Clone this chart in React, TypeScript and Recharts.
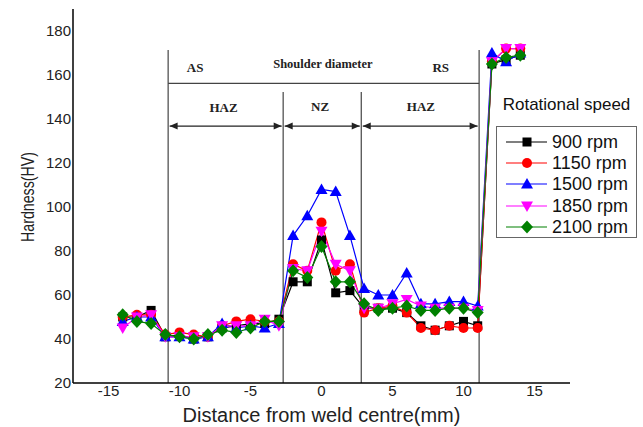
import {
  Legend,
  Line,
  LineChart,
  ReferenceDot,
  ReferenceLine,
  XAxis,
  YAxis,
} from 'recharts'

// distance from weld centre (mm)
const distance = [-14, -13, -12, -11, -10, -9, -8, -7, -6, -5, -4, -3, -2, -1, 0, 1, 2, 3, 4, 5, 6, 7, 8, 9, 10, 11, 12, 13, 14]

const rpm900 = [50, 50, 53, 41, 42, 40, 41, 45, 46, 47, 47, 49, 66, 66, 85, 61, 62, 54, 54, 54, 52, 46, 44, 46, 48, 46, 165, 167, 169]
const rpm1150 = [50, 51, 51, 42, 43, 42, 41, 46, 48, 49, 48, 48, 74, 71, 93, 71, 74, 52, 54, 55, 52, 45, 44, 46, 45, 45, 166, 172, 172]
const rpm1500 = [48, 50, 50, 41, 41, 40, 41, 47, 45, 46, 45, 47, 87, 96, 108, 107, 87, 63, 60, 60, 70, 56, 56, 57, 57, 55, 170, 166, 170]
const rpm1850 = [45, 50, 51, 41, 41, 41, 41, 46, 46, 46, 49, 46, 72, 71, 89, 74, 71, 54, 54, 56, 58, 55, 54, 54, 54, 53, 166, 172, 172]
const rpm2100 = [51, 48, 47, 42, 41, 40, 42, 44, 43, 45, 48, 48, 71, 68, 82, 66, 66, 56, 53, 54, 55, 53, 53, 54, 54, 52, 165, 168, 169]

const seriesNames = ['900 rpm', '1150 rpm', '1500 rpm', '1850 rpm', '2100 rpm']
const seriesKeys = ['s900', 's1150', 's1500', 's1850', 's2100']
const seriesColors = ['#000000', '#ff0000', '#0000ff', '#ff00ff', '#008000']
const seriesMarkers = ['square', 'circle', 'triangle', 'down', 'diamond']

const xTicks = [-15, -10, -5, 0, 5, 10, 15]
const yTicks = [20, 40, 60, 80, 100, 120, 140, 160, 180]

// zone boundaries (mm) and annotation heights (HV)
const zoneBounds = [-10.8, -2.7, 2.8, 11.1]
const outerTop = 171.4
const innerTop = 152.3
const shoulderY = 156.2
const arrowY = 136.8

const topLabels = [
  { text: 'AS', x: -8.9, y: 163.6 },
  { text: 'Shoulder diameter', x: 0.1, y: 165 },
  { text: 'RS', x: 8.4, y: 163.6 },
]
const zoneLabels = [
  { text: 'HAZ', x: -6.9, y: 145.3 },
  { text: 'NZ', x: -0.1, y: 145.5 },
  { text: 'HAZ', x: 7.0, y: 145.5 },
]

const rows = distance.map((d, i) => ({
  d,
  s900: rpm900[i],
  s1150: rpm1150[i],
  s1500: rpm1500[i],
  s1850: rpm1850[i],
  s2100: rpm2100[i],
}))

function Marker({ kind, cx, cy, color }: { kind: string; cx: number; cy: number; color: string }) {
  if (cx == null || cy == null) return null
  if (kind === 'square') return <rect x={cx - 4.5} y={cy - 4.5} width={9} height={9} fill={color} />
  if (kind === 'circle') return <circle cx={cx} cy={cy} r={5} fill={color} />
  if (kind === 'triangle')
    return <polygon points={`${cx},${cy - 6} ${cx + 6},${cy + 4.5} ${cx - 6},${cy + 4.5}`} fill={color} />
  if (kind === 'down')
    return <polygon points={`${cx},${cy + 6} ${cx + 6},${cy - 4.5} ${cx - 6},${cy - 4.5}`} fill={color} />
  return <polygon points={`${cx},${cy - 6.5} ${cx + 6},${cy} ${cx},${cy + 6.5} ${cx - 6},${cy}`} fill={color} />
}

const ArrowSegment = (p: any) => {
  const { x1, y1, x2, y2 } = p
  const a = x1 + 1.5
  const b = x2 - 1.5
  const h = 8
  const w = 3.5
  return (
    <g>
      <line x1={a} y1={y1} x2={b} y2={y2} stroke="#222" strokeWidth={1.2} />
      <polygon points={`${a},${y1} ${a + h},${y1 - w} ${a + h},${y1 + w}`} fill="#222" />
      <polygon points={`${b},${y2} ${b - h},${y2 - w} ${b - h},${y2 + w}`} fill="#222" />
    </g>
  )
}

const textShape = (text: string, size: number) => (p: any) => (
  <text
    x={p.cx}
    y={p.cy}
    textAnchor="middle"
    dominantBaseline="central"
    fontFamily="'Liberation Serif', 'Times New Roman', serif"
    fontWeight="bold"
    fontSize={size}
    fill="#222"
  >
    {text}
  </text>
)

// legend keeps the series order of the figure
const renderLegend = () => (
  <div style={{ fontFamily: "'Liberation Sans', Arial, sans-serif", color: '#111' }}>
    <div style={{ fontSize: 17, lineHeight: '20px', width: 141, textAlign: 'center', marginBottom: 11, marginTop: 2 }}>
      Rotational speed
    </div>
    <div style={{ border: '1px solid #666', width: 139, paddingTop: 4, boxSizing: 'content-box' }}>
      {seriesNames.map((name, k) => (
        <div key={name} style={{ display: 'flex', alignItems: 'center', height: 21.3 }}>
          <svg width={55} height={16} style={{ display: 'block' }}>
            <line x1={9} y1={8} x2={50} y2={8} stroke={seriesColors[k]} strokeWidth={1.2} />
            <Marker kind={seriesMarkers[k]} cx={30} cy={8} color={seriesColors[k]} />
          </svg>
          <span style={{ fontSize: 18, lineHeight: '20px' }}>{name}</span>
        </div>
      ))}
    </div>
  </div>
)

export default function App() {
  return (
    <div style={{ position: 'absolute', left: 0, top: 0, width: 643, height: 427, background: '#fff' }}>
      <LineChart width={643} height={427} data={rows} margin={{ top: 9, right: 73, bottom: 0, left: 33 }}>
        <XAxis
          type="number"
          dataKey="d"
          domain={[-17.5, 17.5]}
          ticks={xTicks}
          tickLine={false}
          tickSize={0}
          tickMargin={2}
          height={44}
          axisLine={{ stroke: '#000', strokeWidth: 1.5 }}
          tick={{ fontSize: 15, fill: '#222', fontFamily: "'Liberation Sans', Arial, sans-serif" }}
          label={{
            value: 'Distance from weld centre(mm)',
            position: 'insideBottom',
            offset: 5,
            style: { fontSize: 20, fill: '#222', fontFamily: "'Liberation Sans', Arial, sans-serif" },
          }}
        />
        <YAxis
          type="number"
          domain={[20, 190]}
          ticks={yTicks}
          width={40}
          tickLine={false}
          tickSize={0}
          tickMargin={2}
          axisLine={{ stroke: '#000', strokeWidth: 1.5 }}
          tick={{ fontSize: 15, fill: '#222', fontFamily: "'Liberation Sans', Arial, sans-serif" }}
          label={{
            value: 'Hardness(HV)',
            content: (lp: any) => {
              const vb = lp.viewBox || { x: 33, y: 9, width: 40, height: 374 }
              const cx = vb.x - 6
              const cy = vb.y + vb.height / 2 + 1
              return (
                <text
                  x={cx}
                  y={cy}
                  transform={`rotate(-90 ${cx} ${cy})`}
                  textAnchor="middle"
                  dominantBaseline="central"
                  fontSize={19}
                  fill="#222"
                  fontFamily="'Liberation Sans', Arial, sans-serif"
                  textLength={90}
                  lengthAdjust="spacingAndGlyphs"
                >
                  Hardness(HV)
                </text>
              )
            },
          }}
        />

        {zoneBounds.map((b, i) => (
          <ReferenceLine
            key={`zb${i}`}
            segment={[
              { x: b, y: 20 },
              { x: b, y: i === 0 || i === 3 ? outerTop : innerTop },
            ]}
            stroke="#444"
            strokeWidth={1.2}
            ifOverflow="visible"
          />
        ))}
        <ReferenceLine
          segment={[
            { x: zoneBounds[0], y: shoulderY },
            { x: zoneBounds[3], y: shoulderY },
          ]}
          stroke="#444"
          strokeWidth={1.2}
          ifOverflow="visible"
        />
        {[0, 1, 2].map((i) => (
          <ReferenceLine
            key={`ar${i}`}
            segment={[
              { x: zoneBounds[i], y: arrowY },
              { x: zoneBounds[i + 1], y: arrowY },
            ]}
            shape={ArrowSegment}
            ifOverflow="visible"
          />
        ))}
        {topLabels.map((t, i) => (
          <ReferenceDot
            key={`tl${i}`}
            x={t.x}
            y={t.y}
            r={0}
            ifOverflow="visible"
            shape={textShape(t.text, t.text.length > 2 ? 12.5 : 13)}
          />
        ))}
        {zoneLabels.map((t, i) => (
          <ReferenceDot key={`zl${i}`} x={t.x} y={t.y} r={0} ifOverflow="visible" shape={textShape(t.text, 13)} />
        ))}

        {seriesKeys.map((k, i) => (
          <Line
            key={k}
            type="linear"
            dataKey={k}
            name={seriesNames[i]}
            stroke={seriesColors[i]}
            strokeWidth={1.2}
            isAnimationActive={false}
            dot={(p: any) => (
              <Marker key={`${k}-${p.index}`} kind={seriesMarkers[i]} cx={p.cx} cy={p.cy} color={seriesColors[i]} />
            )}
            activeDot={false}
          />
        ))}

        <Legend
          layout="vertical"
          align="center"
          verticalAlign="middle"
          content={renderLegend}
          wrapperStyle={{ position: 'absolute', left: 496, top: 93, width: 145 }}
        />
      </LineChart>
    </div>
  )
}
